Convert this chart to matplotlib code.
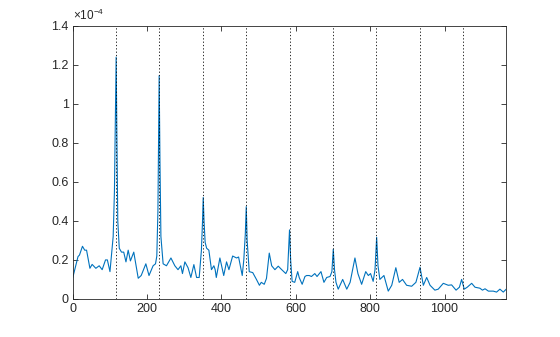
import numpy as np
import matplotlib
matplotlib.use('Agg')
import matplotlib.pyplot as plt

plt.rcParams['font.family'] = ['Liberation Sans', 'DejaVu Sans']
plt.rcParams['mathtext.fontset'] = 'custom'
plt.rcParams['mathtext.rm'] = 'Liberation Sans'
plt.rcParams['mathtext.it'] = 'Liberation Sans'

# Frecuencia fundamental (Hz) y armonicos marcados
f0 = 116.6
armonicos = [1, 2, 3, 4, 5, 6, 7, 8, 9]

# Espectro (frecuencia en Hz, potencia en unidades de 1e-4)
freq = [0, 14, 18, 26, 32, 37, 46, 52, 62, 71, 79, 88, 93, 100, 108.6, 112, 114.5, 116.6, 118.5, 121,
        125, 131, 137, 143, 149, 155, 164, 176, 184, 196.5, 205, 216, 222.5, 226, 229, 232.3, 234.5, 237,
        243, 252, 264, 274.5, 283, 290.7, 295, 301.5, 310, 317.6, 325.7, 333, 340, 346, 349, 350.8, 353, 356,
        360, 366, 373, 379.5, 383, 386, 395.7, 406, 413.6, 420, 430, 440.5, 446, 455.8, 460, 464, 466.6, 469,
        474.6, 484, 494, 502, 507, 515, 521, 528.5, 535, 543.7, 552.7, 562, 573, 578, 583, 586, 590, 597,
        605, 609, 617, 624.5, 629, 636, 642, 651, 657, 667.6, 675.6, 683, 692, 697, 700.7, 704, 708, 714,
        726, 737, 746, 759, 767, 777, 788, 795, 801, 808, 813, 817.4, 821, 826, 837, 848.6, 858, 869, 878,
        887, 898, 911.6, 923, 934, 943, 952, 961, 974, 983, 996.7, 1010, 1019, 1031, 1040, 1046, 1053,
        1061, 1073, 1082, 1095, 1102, 1109, 1118, 1131, 1140, 1149, 1158, 1166]
psd_e4 = [0.11, 0.217, 0.225, 0.27, 0.25, 0.25, 0.157, 0.177, 0.157, 0.17, 0.15, 0.2, 0.2, 0.14, 0.32, 0.55, 0.95, 1.24, 0.85, 0.4,
          0.26, 0.24, 0.24, 0.19, 0.25, 0.195, 0.24, 0.106, 0.12, 0.18, 0.12, 0.17, 0.18, 0.22, 0.45, 1.145, 0.7, 0.32,
          0.18, 0.17, 0.21, 0.17, 0.15, 0.17, 0.13, 0.19, 0.16, 0.11, 0.176, 0.11, 0.11, 0.25, 0.4, 0.52, 0.4, 0.29,
          0.26, 0.25, 0.15, 0.17, 0.15, 0.11, 0.21, 0.12, 0.19, 0.15, 0.22, 0.21, 0.215, 0.12, 0.2, 0.33, 0.473, 0.3,
          0.14, 0.135, 0.1, 0.07, 0.085, 0.075, 0.105, 0.235, 0.17, 0.15, 0.168, 0.15, 0.13, 0.15, 0.354, 0.2, 0.09, 0.085,
          0.14, 0.11, 0.075, 0.115, 0.12, 0.12, 0.115, 0.13, 0.115, 0.14, 0.085, 0.11, 0.115, 0.14, 0.255, 0.15, 0.085, 0.05,
          0.1, 0.05, 0.085, 0.21, 0.13, 0.075, 0.14, 0.12, 0.13, 0.09, 0.15, 0.316, 0.17, 0.1, 0.12, 0.04, 0.07, 0.16, 0.085,
          0.1, 0.07, 0.065, 0.085, 0.162, 0.07, 0.11, 0.07, 0.045, 0.05, 0.08, 0.07, 0.072, 0.045, 0.06, 0.1, 0.05,
          0.06, 0.08, 0.06, 0.055, 0.045, 0.052, 0.04, 0.04, 0.035, 0.05, 0.035, 0.05]

xticks = [0, 200, 400, 600, 800, 1000]
yticks = [0, 0.2, 0.4, 0.6, 0.8, 1.0, 1.2, 1.4]
ytick_labels = ['0', '0.2', '0.4', '0.6', '0.8', '1', '1.2', '1.4']

gris = (0.15, 0.15, 0.15)

fig = plt.figure(figsize=(5.6, 3.37), dpi=100)
ax = fig.add_axes([0.13, 0.113, 0.774, 0.81])

ax.plot(freq, psd_e4, color='#0072BD', linewidth=0.8)
for k in armonicos:
    ax.axvline(k * f0, color='black', linestyle=(0, (1.5, 2.5)), linewidth=0.6)

ax.set_xlim(0, 10 * f0)
ax.set_ylim(0, 1.4)
ax.set_xticks(xticks)
ax.set_yticks(yticks)
ax.set_yticklabels(ytick_labels)
ax.tick_params(direction='in', top=True, right=True, length=3.5, width=0.6,
               colors=gris, labelsize=9, pad=3)
for s in ax.spines.values():
    s.set_color(gris)
    s.set_linewidth(0.6)

# Multiplicador del eje y al estilo MATLAB
ax.text(0.0, 1.01, r'$\times\mathrm{10}^{\mathrm{-4}}$', transform=ax.transAxes, fontsize=8.5,
        color=gris, ha='left', va='bottom')

fig.savefig('out.png', dpi=100)
